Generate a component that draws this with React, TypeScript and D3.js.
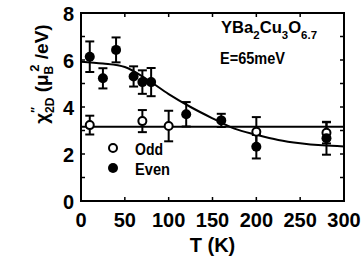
import React from 'react';
import * as d3 from 'd3';

// odd channel (open circles)
const oddT = [10, 70, 100, 200, 280];
const oddV = [3.23, 3.4, 3.19, 2.95, 2.9];
const oddErr = [0.4, 0.47, 0.65, 0.62, 0.45];

// even channel (filled circles)
const evenT = [10, 25, 40, 60, 70, 80, 120, 160, 200, 280];
const evenV = [6.14, 5.22, 6.43, 5.3, 5.06, 5.06, 3.69, 3.43, 2.31, 2.67];
const evenErr = [0.65, 0.43, 0.53, 0.43, 0.5, 0.6, 0.52, 0.28, 0.5, 0.7];

// fitted curve for even
const fitT = [0, 25, 50, 75, 100, 125, 150, 175, 200, 225, 250, 275, 300];
const fitV = [5.93, 5.85, 5.7, 5.18, 4.55, 4.0, 3.52, 3.08, 2.82, 2.6, 2.46, 2.37, 2.32];

// constant fit for odd
const oddLevel = 3.16;

const xTicks = [0, 50, 100, 150, 200, 250, 300];
const yTicks = [0, 2, 4, 6, 8];
const yMinor = [0, 1, 2, 3, 4, 5, 6, 7, 8];

const W = 362;
const H = 261;
const FONT = '"Liberation Sans", Arial, Helvetica, sans-serif';

export default function App() {
  const x = d3.scaleLinear().domain([0, 300]).range([81, 344]);
  const y = d3.scaleLinear().domain([0, 8]).range([201, 13]);

  const fitLine = d3
    .line<number>()
    .x((_, i) => x(fitT[i]))
    .y((d) => y(d))
    .curve(d3.curveMonotoneX)(fitV);

  const errBar = (t: number, v: number, e: number, key: string) => (
    <g key={key} stroke="#000" strokeWidth={2}>
      <line x1={x(t)} x2={x(t)} y1={y(v - e)} y2={y(v + e)} />
      <line x1={x(t) - 4.5} x2={x(t) + 4.5} y1={y(v - e)} y2={y(v - e)} />
      <line x1={x(t) - 4.5} x2={x(t) + 4.5} y1={y(v + e)} y2={y(v + e)} />
    </g>
  );

  const [x0, x1] = x.range();
  const [y0, y1] = y.range();

  return (
    <svg
      width={W}
      height={H}
      style={{ position: 'absolute', left: 0, top: 0, background: '#fff' }}
      fontFamily={FONT}
      fontWeight="bold"
    >
      {/* ticks, inward on all four sides */}
      <g stroke="#000" strokeWidth={1.5}>
        {xTicks.map((t) => (
          <g key={'xt' + t}>
            <line x1={x(t)} x2={x(t)} y1={y0} y2={y0 - 4} />
            <line x1={x(t)} x2={x(t)} y1={y1} y2={y1 + 4} />
          </g>
        ))}
        {yMinor.map((v) => (
          <g key={'yt' + v}>
            <line x1={x0} x2={x0 + 4} y1={y(v)} y2={y(v)} />
            <line x1={x1} x2={x1 - 4} y1={y(v)} y2={y(v)} />
          </g>
        ))}
      </g>

      {/* fits */}
      <path d={fitLine ?? ''} fill="none" stroke="#000" strokeWidth={2} />
      <line x1={x0} x2={x1} y1={y(oddLevel)} y2={y(oddLevel)} stroke="#000" strokeWidth={2} />

      {/* frame */}
      <rect x={x0} y={y1} width={x1 - x0} height={y0 - y1} fill="none" stroke="#000" strokeWidth={2} />

      {/* error bars */}
      {oddT.map((t, i) => errBar(t, oddV[i], oddErr[i], 'oe' + i))}
      {evenT.map((t, i) => errBar(t, evenV[i], evenErr[i], 'ee' + i))}

      {/* markers */}
      {oddT.map((t, i) => (
        <circle key={'o' + i} cx={x(t)} cy={y(oddV[i])} r={4} fill="#fff" stroke="#000" strokeWidth={2} />
      ))}
      {evenT.map((t, i) => (
        <circle key={'e' + i} cx={x(t)} cy={y(evenV[i])} r={5} fill="#000" />
      ))}

      {/* tick labels */}
      <g fontSize={20} fill="#000">
        {xTicks.map((t) => (
          <text key={'xl' + t} x={x(t)} y={227} textAnchor="middle">
            {t}
          </text>
        ))}
        {yTicks.map((v) => (
          <text key={'yl' + v} x={74} y={y(v) + 8} textAnchor="end">
            {v}
          </text>
        ))}
      </g>

      {/* axis titles */}
      <text x={(x0 + x1) / 2} y={252} textAnchor="middle" fontSize={20}>
        T  (K)
      </text>
      <text transform="translate(48,74) rotate(-90)" textAnchor="middle" fontSize={19}>
        χ<tspan fontSize={12} dy={-8}>″</tspan>
        <tspan fontSize={12} dx={-6} dy={14}>2D</tspan>
        <tspan dy={-6}> (μ</tspan>
        <tspan fontSize={12} dy={5}>B</tspan>
        <tspan fontSize={13} dx={-6} dy={-14}>2</tspan>
        <tspan dy={9}> /eV)</tspan>
      </text>

      {/* legend */}
      <circle cx={113} cy={148} r={4} fill="#fff" stroke="#000" strokeWidth={2} />
      <text x={135} y={155} fontSize={17} textLength={28} lengthAdjust="spacingAndGlyphs">
        Odd
      </text>
      <circle cx={113} cy={168} r={5} fill="#000" />
      <text x={135} y={175} fontSize={17} textLength={35} lengthAdjust="spacingAndGlyphs">
        Even
      </text>

      {/* annotation */}
      <text x={221} y={33} fontSize={16} textLength={96} lengthAdjust="spacingAndGlyphs">
        YBa<tspan fontSize={11} dy={6}>2</tspan>
        <tspan dy={-6}>Cu</tspan>
        <tspan fontSize={11} dy={6}>3</tspan>
        <tspan dy={-6}>O</tspan>
        <tspan fontSize={11} dy={6}>6.7</tspan>
      </text>
      <text x={220} y={64} fontSize={16} textLength={65} lengthAdjust="spacingAndGlyphs">
        E=65meV
      </text>
    </svg>
  );
}
